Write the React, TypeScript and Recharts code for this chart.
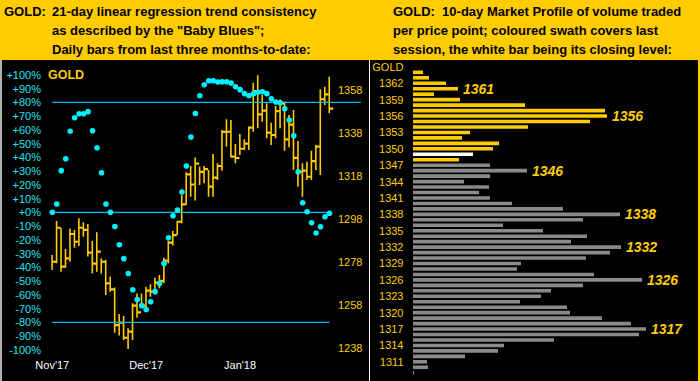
import React from 'react';
import {
  ComposedChart,
  BarChart,
  Bar,
  Scatter,
  XAxis,
  YAxis,
  ReferenceLine,
  Cell,
  LabelList,
} from 'recharts';

// ---------- Left panel: daily bars (high / low / close) and "Baby Blues" ----------
const highs = [
  1281.3, 1297.1, 1294.0, 1284.1, 1293.7, 1293.0, 1298.4, 1296.5, 1295.7, 1287.8,
  1291.9, 1279.8, 1279.0, 1271.3, 1266.2, 1253.9, 1253.0, 1247.3, 1258.9, 1263.5,
  1263.5, 1266.6, 1267.7, 1270.8, 1272.1, 1280.1, 1287.8, 1292.5, 1297.1, 1309.2,
  1319.8, 1322.7, 1326.6, 1322.4, 1322.7, 1320.8, 1328.3, 1324.0, 1339.4, 1344.4,
  1344.1, 1332.9, 1337.6, 1335.1, 1341.0, 1361.4, 1364.8, 1355.7, 1351.8, 1342.8,
  1350.6, 1353.7, 1352.6, 1346.4, 1348.7, 1334.3, 1324.0, 1324.7, 1329.8, 1332.5,
  1358.3, 1359.5, 1364.2,
];
const lows = [
  1274.4, 1277.5, 1273.6, 1275.4, 1278.2, 1284.7, 1285.5, 1289.8, 1280.6, 1272.8,
  1273.6, 1272.8, 1262.8, 1264.3, 1245.2, 1244.0, 1241.9, 1237.7, 1241.9, 1252.2,
  1257.3, 1255.8, 1262.0, 1263.5, 1265.9, 1268.2, 1277.5, 1285.7, 1290.6, 1296.1,
  1304.6, 1308.4, 1306.7, 1313.9, 1314.7, 1308.4, 1308.4, 1316.2, 1320.5, 1331.7,
  1326.8, 1324.0, 1327.8, 1330.1, 1330.1, 1338.6, 1340.2, 1343.3, 1335.6, 1332.5,
  1335.6, 1340.2, 1329.8, 1331.4, 1320.8, 1313.1, 1308.4, 1316.2, 1316.2, 1320.8,
  1318.5, 1351.0, 1347.2,
];
const closes = [
  1278.2, 1294.0, 1275.9, 1279.8, 1291.1, 1287.5, 1294.0, 1293.0, 1282.4, 1277.3,
  1282.9, 1278.2, 1268.2, 1265.4, 1248.8, 1249.9, 1242.9, 1245.7, 1257.8, 1254.7,
  1257.8, 1264.8, 1264.3, 1268.5, 1269.3, 1278.7, 1287.1, 1290.6, 1296.8, 1304.9,
  1318.8, 1314.1, 1323.8, 1320.0, 1321.2, 1313.1, 1317.3, 1322.7, 1338.5, 1338.6,
  1327.0, 1326.4, 1330.7, 1333.1, 1340.5, 1357.5, 1346.7, 1348.4, 1338.2, 1337.1,
  1348.2, 1351.8, 1335.1, 1341.9, 1326.5, 1320.0, 1320.5, 1317.7, 1325.0, 1331.7,
  1353.7, 1356.0, 1349.3,
];
const babyBlues = [
  0, 6.0, 30.3, 39.0, 58.9, 68.8, 71.7, 71.7, 73.2, 59.3,
  47.0, 28.8, 6.0, 0, -10.3, -23.6, -33.7, -44.5, -56.3, -63.4,
  -67.9, -70.7, -65.0, -57.7, -51.8, -37.2, -18.5, -2.5, 1.7, 14.8,
  33.7, 54.8, 71.9, 84.8, 92.8, 95.7, 95.7, 94.8, 95.0, 95.0,
  94.0, 91.3, 89.2, 86.3, 84.8, 86.3, 87.3, 87.7, 86.3, 82.6,
  80.2, 79.7, 75.3, 67.1, 55.7, 29.5, 7.0, 0.4, -7.6, -15.1,
  -10.5, -3.2, -0.7,
];
const emptySlots = 7; // blank sessions to the right of the last bar
const monthLabels: Record<number, string> = { 0: "Nov'17", 21: "Dec'17", 42: "Jan'18" };
const pctTicks = [-100, -90, -80, -70, -60, -50, -40, -30, -20, -10, 0, 10, 20, 30, 40, 50, 60, 70, 80, 90, 100];
const priceTicks = [1238, 1258, 1278, 1298, 1318, 1338, 1358];

// ---------- Right panel: 10-day market profile ----------
const profilePrices = [
  1365, 1364, 1363, 1362, 1361, 1360, 1359, 1358, 1357, 1356, 1355, 1354, 1353, 1352, 1351, 1350,
  1349, 1348, 1347, 1346, 1345, 1344, 1343, 1342, 1341, 1340, 1339, 1338, 1337, 1336, 1335, 1334,
  1333, 1332, 1331, 1330, 1329, 1328, 1327, 1326, 1325, 1324, 1323, 1322, 1321, 1320, 1319, 1318,
  1317, 1316, 1315, 1314, 1313, 1312, 1311, 1310, 1309,
];
const profileVolumes = [
  0, 10, 16, 33, 45, 21, 47, 112, 192, 194, 177, 115, 57, 49, 86, 80,
  60, 46, 77, 114, 77, 51, 76, 66, 77, 99, 150, 207, 170, 90, 130, 174,
  158, 208, 197, 173, 108, 104, 181, 229, 170, 138, 128, 107, 154, 157, 189, 218,
  233, 226, 141, 91, 85, 52, 14, 15, 1,
];
const profileTickPrices = [1362, 1359, 1356, 1353, 1350, 1347, 1344, 1341, 1338, 1335, 1332, 1329, 1326, 1323, 1320, 1317, 1314, 1311];
const profileCallouts = [1361, 1356, 1346, 1338, 1332, 1326, 1317];
const lastSessionLow = 1348;
const closingLevel = 1349;

// ---------- colours ----------
const HEADER_BG = '#FFCC00';
const GOLD = '#FFCC00';
const CYAN_TEXT = '#22E4EE';
const CYAN_DOT = '#00F0FF';
const CYAN_LINE = '#00BEEE';
const GREY_BAR = '#8A8A8A';
const FONT = '"Liberation Sans", Arial, Helvetica, sans-serif';

const barData = Array.from({ length: highs.length + emptySlots }, (_, i) =>
  i < highs.length
    ? { i, range: [lows[i], highs[i]], high: highs[i], low: lows[i], close: closes[i], pct: babyBlues[i] }
    : { i, range: null, high: null, low: null, close: null, pct: null }
);

const profileData = profilePrices.map((p, k) => ({
  price: p,
  vol: profileVolumes[k],
  label: profileCallouts.includes(p) ? String(p) : null,
}));

const profileColor = (p: number) =>
  p === closingLevel ? '#FFFFFF' : p >= lastSessionLow ? GOLD : GREY_BAR;

const OhlcShape = (props: any) => {
  const { x, y, width, height, payload } = props;
  if (!payload || payload.high == null || !isFinite(y) || !isFinite(height)) return <g />;
  const top = Math.min(y, y + height);
  const bottom = Math.max(y, y + height);
  const cx = x + width / 2;
  const span = payload.high - payload.low;
  const yc = top + (span > 0 ? ((payload.high - payload.close) / span) * (bottom - top) : 0);
  return (
    <g>
      <line x1={cx} x2={cx} y1={top} y2={bottom} stroke={GOLD} strokeWidth={1.6} />
      <line x1={cx} x2={cx + 4} y1={yc} y2={yc} stroke={GOLD} strokeWidth={2.2} />
    </g>
  );
};

const DotShape = (props: any) => {
  const { cx, cy, payload } = props;
  if (!payload || payload.pct == null || !isFinite(cx) || !isFinite(cy)) return <g />;
  return <circle cx={cx} cy={cy} r={2.8} fill={CYAN_DOT} />;
};

const PctTick = (props: any) => {
  const { y, payload } = props;
  const v = payload.value;
  const s = (v >= 0 ? '+' : '') + v + '%';
  return (
    <text x={41} y={y} dy={4} textAnchor="end" fontSize={11} fontFamily={FONT} fill={CYAN_TEXT}>
      {s}
    </text>
  );
};

const PriceTick = (props: any) => {
  const { y, payload } = props;
  return (
    <text x={338} y={y} dy={4} textAnchor="start" fontSize={11} fontFamily={FONT} fill={GOLD}>
      {payload.value}
    </text>
  );
};

const MonthTick = (props: any) => {
  const { x, payload } = props;
  const lab = monthLabels[payload.value];
  if (!lab) return <g />;
  return (
    <text x={x} y={369} textAnchor="middle" fontSize={11} fontFamily={FONT} fill="#FFFFFF">
      {lab}
    </text>
  );
};

const ProfileTick = (props: any) => {
  const { y, payload } = props;
  const v = Number(payload.value);
  let lab: string | null = null;
  if (v === 1365) lab = 'GOLD';
  else if (profileTickPrices.includes(v)) lab = String(v);
  if (!lab) return <g />;
  return (
    <text x={34.5} y={y} dy={4} textAnchor="end" fontSize={11} fontFamily={FONT} fill={GOLD}>
      {lab}
    </text>
  );
};

const CalloutLabel = (props: any) => {
  const { x, y, width, height, value } = props;
  if (!value) return <g />;
  return (
    <text
      x={x + width + 5}
      y={y + height / 2 + 5}
      fontSize={14}
      fontWeight="bold"
      fontStyle="italic"
      fontFamily={FONT}
      fill={GOLD}
    >
      {value}
    </text>
  );
};

const headerText: React.CSSProperties = {
  position: 'absolute',
  fontFamily: FONT,
  fontWeight: 'bold',
  fontSize: 13,
  lineHeight: '19.2px',
  color: '#000',
  whiteSpace: 'pre',
};

export default function App() {
  return (
    <div
      style={{
        position: 'fixed',
        left: 0,
        top: 0,
        width: 700,
        height: 381,
        background: HEADER_BG,
        overflow: 'hidden',
      }}
    >
      <div style={{ ...headerText, left: 4, top: 2 }}>GOLD:</div>
      <div style={{ ...headerText, left: 52, top: 2 }}>
        {'21-day linear regression trend consistency\nas described by the "Baby Blues";\nDaily bars from last three months-to-date:'}
      </div>
      <div style={{ ...headerText, left: 393, top: 2 }}>
        {'GOLD:  10-day Market Profile of volume traded\nper price point; coloured swath covers last\nsession, the white bar being its closing level:'}
      </div>

      <div style={{ position: 'absolute', left: 0, top: 60, width: 2, height: 321, background: '#B0B0B0' }} />
      <div style={{ position: 'absolute', left: 2, top: 60, width: 696, height: 321, background: '#000' }} />
      <div style={{ position: 'absolute', left: 369, top: 60, width: 1, height: 321, background: '#FFFFFF' }} />

      <div
        style={{
          position: 'absolute',
          left: 48,
          top: 68,
          fontFamily: FONT,
          fontWeight: 'bold',
          fontSize: 12.5,
          color: GOLD,
        }}
      >
        GOLD
      </div>

      <div style={{ position: 'absolute', left: 0, top: 0 }}>
        <ComposedChart
          width={366}
          height={381}
          data={barData}
          margin={{ top: 74.8, right: 0, bottom: 0, left: 0 }}
          barCategoryGap={0}
        >
          <XAxis
            dataKey="i"
            type="category"
            height={31.2}
            interval={0}
            tick={MonthTick}
            axisLine={false}
            tickLine={false}
          />
          <YAxis
            yAxisId="pct"
            orientation="left"
            type="number"
            width={50.07}
            domain={[-100, 100]}
            ticks={pctTicks}
            interval={0}
            tick={PctTick}
            axisLine={false}
            tickLine={false}
            allowDataOverflow
          />
          <YAxis
            yAxisId="price"
            orientation="right"
            type="number"
            width={3}
            domain={[1237.3, 1365.06]}
            ticks={priceTicks}
            interval={0}
            tick={PriceTick}
            axisLine={false}
            tickLine={false}
            allowDataOverflow
          />
          <ReferenceLine
            yAxisId="pct"
            segment={[{ x: 0, y: 80 }, { x: highs.length + emptySlots - 1, y: 80 }]}
            stroke={CYAN_LINE}
            strokeWidth={1.3}
          />
          <ReferenceLine
            yAxisId="pct"
            segment={[{ x: 0, y: 0 }, { x: highs.length - 1, y: 0 }]}
            stroke={CYAN_LINE}
            strokeWidth={1.3}
          />
          <ReferenceLine
            yAxisId="pct"
            segment={[{ x: 0, y: -80 }, { x: highs.length - 1, y: -80 }]}
            stroke={CYAN_LINE}
            strokeWidth={1.3}
          />
          <Bar yAxisId="price" dataKey="range" barSize={5} shape={OhlcShape} isAnimationActive={false} />
          <Scatter yAxisId="pct" dataKey="pct" shape={DotShape} isAnimationActive={false} />
        </ComposedChart>
      </div>

      <div style={{ position: 'absolute', left: 369, top: 0 }}>
        <BarChart
          layout="vertical"
          width={331}
          height={381}
          data={profileData}
          margin={{ top: 64.1, right: 2, bottom: 5.6, left: 0 }}
          barCategoryGap={0}
        >
          <XAxis type="number" domain={[0, 285]} hide allowDataOverflow />
          <YAxis
            type="category"
            dataKey="price"
            width={44}
            interval={0}
            tick={ProfileTick}
            axisLine={false}
            tickLine={false}
          />
          <Bar dataKey="vol" barSize={3.6} isAnimationActive={false}>
            {profileData.map((d, k) => (
              <Cell key={k} fill={profileColor(d.price)} />
            ))}
            <LabelList dataKey="label" content={CalloutLabel} />
          </Bar>
        </BarChart>
      </div>
    </div>
  );
}
